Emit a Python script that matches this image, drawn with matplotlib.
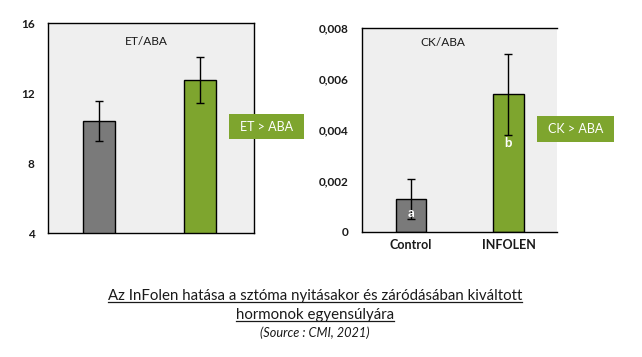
import matplotlib
matplotlib.use("Agg")
import matplotlib.pyplot as plt
from matplotlib.patches import Rectangle
from matplotlib.lines import Line2D

plt.rcParams['font.family'] = ['Lato', 'DejaVu Sans']

categories = ["Control", "INFOLEN"]
et_aba = [10.4, 12.75]
et_aba_err = [1.15, 1.3]
ck_aba = [0.00128, 0.0054]
ck_aba_err = [0.00078, 0.0016]
ck_letters = ["a", "b"]
et_ticks = [4, 8, 12, 16]
ck_ticks = [0, 0.002, 0.004, 0.006, 0.008]
ck_tick_labels = ["0", "0,002", "0,004", "0,006", "0,008"]

W, H = 642, 357
fig = plt.figure(figsize=(W/100, H/100), dpi=100)
fig.patch.set_facecolor("white")

def px_axes(x0, y0, x1, y1):
    return fig.add_axes([x0/W, 1 - y1/H, (x1-x0)/W, (y1-y0)/H])

colors = ["#7a7a7a", "#7ea52e"]
bg = "#efefef"
txtc = "#1a1a1a"

# Left panel
ax1 = px_axes(48, 23, 254, 233)
ax1.set_facecolor(bg)
x = [0, 1]
ax1.bar(x, et_aba, width=0.315, color=colors, edgecolor="black", linewidth=1.0, zorder=2)
ax1.errorbar(x, et_aba, yerr=et_aba_err, fmt="none", ecolor="black", elinewidth=1.0, capsize=3, capthick=1.0, zorder=3)
ax1.set_xlim(-0.506, 1.534)
ax1.set_ylim(4, 16)
ax1.set_yticks(et_ticks)
ax1.set_yticklabels([str(t) for t in et_ticks], fontsize=8.5, fontweight="bold", color=txtc)
ax1.set_xticks([])
ax1.tick_params(axis="y", length=0, pad=9.5)
for s in ax1.spines.values():
    s.set_linewidth(1.0)
    s.set_color("black")
ax1.text(0.476, 0.91, "ET/ABA", transform=ax1.transAxes, ha="center", va="center", fontsize=8.6, color=txtc)

# Right panel
ax2 = px_axes(362, 28, 557, 232)
ax2.set_facecolor(bg)
ax2.bar(x, ck_aba, width=0.315, color=colors, edgecolor="black", linewidth=1.0, zorder=2)
ax2.errorbar(x, ck_aba, yerr=ck_aba_err, fmt="none", ecolor="black", elinewidth=1.0, capsize=3, capthick=1.0, zorder=3)
ax2.set_xlim(-0.502, 1.498)
ax2.set_ylim(0, 0.008)
ax2.set_yticks(ck_ticks)
ax2.set_yticklabels(ck_tick_labels, fontsize=8.5, fontweight="bold", color=txtc)
ax2.set_xticks(x)
ax2.set_xticklabels(categories, fontsize=9, fontweight="bold", color=txtc)
ax2.tick_params(axis="y", length=0, pad=9.5)
ax2.tick_params(axis="x", length=0, pad=5)
for s in ax2.spines.values():
    s.set_linewidth(1.0)
    s.set_color("black")
ax2.spines["right"].set_visible(False)
ax2.text(0.415, 0.93, "CK/ABA", transform=ax2.transAxes, ha="center", va="center", fontsize=8.6, color=txtc)
letter_y = [0.00075, 0.0035]
for xi, lt, ly in zip(x, ck_letters, letter_y):
    ax2.text(xi, ly, lt, ha="center", va="center", color="white", fontsize=9.5, fontweight="bold", zorder=4)

# label boxes
def label_box(x0, y0, x1, y1, txt):
    fig.patches.append(Rectangle((x0/W, 1 - y1/H), (x1-x0)/W, (y1-y0)/H, transform=fig.transFigure,
                                 facecolor="#7ea52e", edgecolor="none"))
    fig.text((x0+x1)/2/W, 1 - (y0+y1)/2/H, txt, ha="center", va="center", color="white", fontsize=9)

label_box(229, 114, 304, 139, "ET > ABA")
label_box(537, 116, 614, 142, "CK > ABA")

# caption
cap1 = fig.text(315/W, 1 - 296/H, "Az InFolen hatása a sztóma nyitásakor és záródásában kiváltott",
                ha="center", va="center", fontsize=10.8, color=txtc)
cap2 = fig.text(315/W, 1 - 315/H, "hormonok egyensúlyára",
                ha="center", va="center", fontsize=10.8, color=txtc)
fig.text(315/W, 1 - 333/H, "(Source : CMI, 2021)", ha="center", va="center",
         fontsize=9.2, style="italic", color=txtc)

fig.canvas.draw()
r = fig.canvas.get_renderer()
for t in (cap1, cap2):
    bb = t.get_window_extent(r).transformed(fig.transFigure.inverted())
    yy = bb.y0 + 1.5/H
    fig.lines.append(Line2D([bb.x0, bb.x1], [yy, yy], transform=fig.transFigure, color=txtc, linewidth=0.9))

fig.savefig("out.png", dpi=100)
